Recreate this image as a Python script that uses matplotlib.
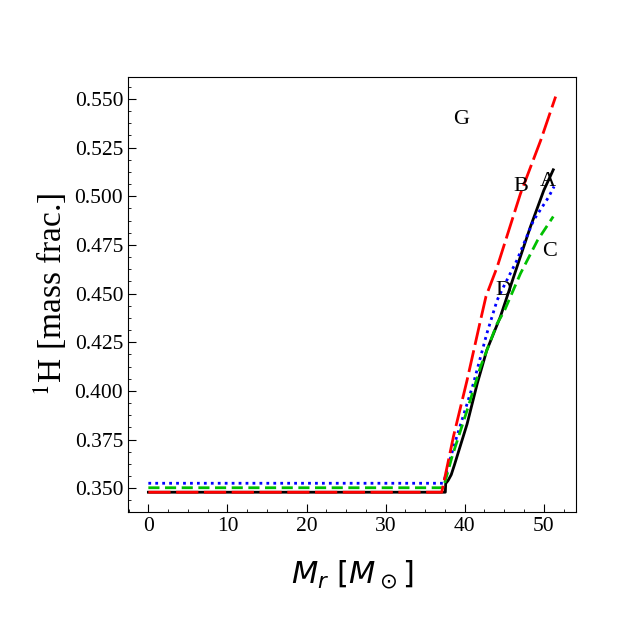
import numpy as np
import matplotlib
matplotlib.use("Agg")
import matplotlib.pyplot as plt
from matplotlib.ticker import MultipleLocator, AutoMinorLocator

plt.rcParams["font.family"] = ["Liberation Serif", "DejaVu Serif"]

# mass coordinate [Msun] and 1H mass fraction
mr_a = [0, 37.55, 37.6, 37.9, 38.3, 38.7, 40.3, 41.6, 42.8, 44.5, 46.6, 48.3, 50.0, 51.2]
h1_a = [0.348, 0.348, 0.3525, 0.354, 0.357, 0.362, 0.383, 0.404, 0.421, 0.438, 0.4636, 0.4842, 0.503, 0.5136]

mr_b = [0, 37.1, 38.6, 40.3, 42.0, 42.7, 44.1, 47.05, 49.6, 51.5]
h1_b = [0.348, 0.348, 0.377, 0.4055, 0.4363, 0.4487, 0.4636, 0.5013, 0.5286, 0.5512]

mr_c = [0, 37.3, 38.4, 40.3, 42.0, 44.1, 45.0, 47.05, 49.2, 51.2]
h1_c = [0.3503, 0.3503, 0.3662, 0.390, 0.4124, 0.4346, 0.441, 0.4603, 0.4773, 0.4896]

mr_d = [0, 37.3, 38.6, 41.1, 42.8, 44.1, 44.9, 46.6, 48.7, 50.6, 51.3]
h1_d = [0.3526, 0.3526, 0.3713, 0.4038, 0.4295, 0.4466, 0.4534, 0.4671, 0.4876, 0.4995, 0.505]

labels = ["G", "B", "A", "C", "D"]
label_x = [39.5, 47.05, 50.5, 50.7, 44.9]
label_y = [0.5394, 0.505, 0.5075, 0.4717, 0.4517]

fig = plt.figure(figsize=(6.4, 6.4), dpi=100)
ax = fig.add_subplot(1, 1, 1)
fig.subplots_adjust(left=0.2, right=0.9, bottom=0.2, top=0.88)

ax.plot(mr_a, h1_a, color="black", lw=2, ls="-")
ax.plot(mr_d, h1_d, color="blue", lw=2, ls=(0, (1, 1.5)))
ax.plot(mr_c, h1_c, color="#00c000", lw=2, ls=(0, (4, 2)))
ax.plot(mr_b, h1_b, color="red", lw=2, ls=(0, (8, 2)))

for lab, lx, ly in zip(labels, label_x, label_y):
    ax.text(lx, ly, lab, fontsize=16, ha="center", va="center")

ax.set_xlabel(r"$M_r\ [M_\odot]$", fontsize=22, math_fontfamily="dejavusans", labelpad=16)
ax.set_ylabel(r"$^{1}$H [mass frac.]", fontsize=24, math_fontfamily="stix", labelpad=4)

ax.xaxis.set_major_locator(MultipleLocator(10))
ax.xaxis.set_minor_locator(AutoMinorLocator(4))
ax.yaxis.set_major_locator(MultipleLocator(0.025))
ax.yaxis.set_minor_locator(AutoMinorLocator(4))
ax.tick_params(which="both", direction="in", top=False, right=False, labelsize=15.5)
ax.tick_params(which="major", length=5.5)
ax.tick_params(which="minor", length=2.5)

fig.savefig("out.png", dpi=100)
